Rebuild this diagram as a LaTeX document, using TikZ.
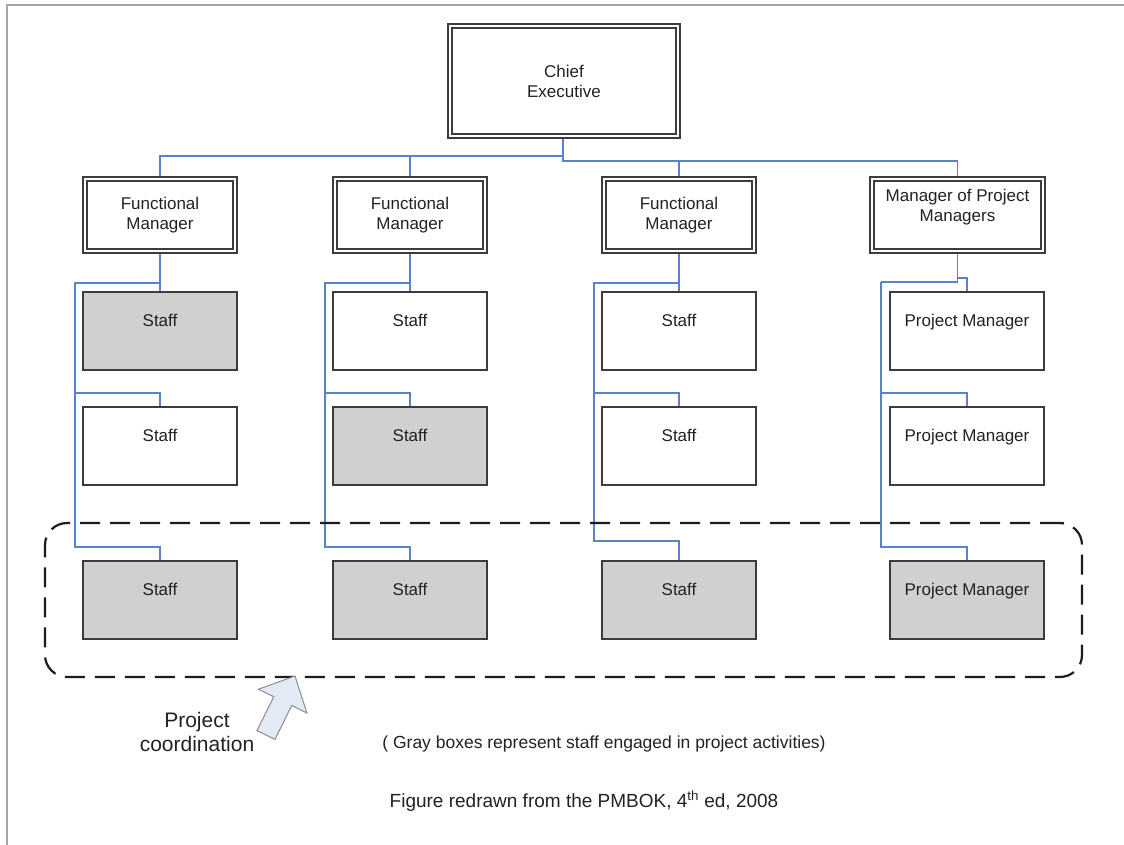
\documentclass[tikz,border=0pt]{standalone}
\usepackage{fontspec}
\setmainfont{Liberation Sans}
\usetikzlibrary{calc}
\pgfdeclarelayer{background}
\pgfsetlayers{background,main}

\definecolor{boxline}{HTML}{3C3C3C}
\definecolor{shade}{HTML}{D0D0D0}
\definecolor{txt}{HTML}{222222}
\definecolor{linkblue}{HTML}{5A82C8}
\definecolor{framegray}{HTML}{A6A6A6}
\definecolor{arrowfill}{HTML}{E3E9F5}
\definecolor{arrowline}{HTML}{8C8C8C}
\definecolor{dashcol}{HTML}{1C1C1C}

\tikzset{
  boxfont/.style={font=\fontsize{17}{20}\selectfont, text=txt},
  dbox/.style={boxfont, draw=boxline, line width=1.3pt, double=white,
    double distance=2.6pt, fill=white, inner sep=0pt, outer sep=0pt, align=center},
  staffbox/.style={boxfont, draw=boxline, line width=1.5pt, fill=white,
    minimum width=154pt, minimum height=78pt, inner sep=0pt, outer sep=0pt,
    text height=12pt, text depth=22pt},
  engaged/.style={staffbox, fill=shade},
  link/.style={draw=linkblue, line width=1.3pt},
  groupline/.style={draw=dashcol, line width=2.2pt, dash pattern=on 20pt off 10pt,
    rounded corners=22pt, inner sep=0pt, outer sep=0pt},
  blockarrow/.style={draw=arrowline, line width=1pt, fill=arrowfill, line join=miter},
  plaintext/.style={text=txt, inner sep=0pt, align=center},
}

\begin{document}
\begin{tikzpicture}[x=1pt, y=-1pt]
\useasboundingbox (0,0) rectangle (1124,845);

% page frame
\draw[framegray, line width=1.6pt] (7,845) -- (7,5) -- (1124,5);

% chief executive and the managers below
\node[dbox, minimum width=228pt, minimum height=110pt] (ce) at (564,81) {Chief\\Executive};
\node[dbox, minimum width=150pt, minimum height=72pt] (fm1) at (160,215) {Functional\\Manager};
\node[dbox, minimum width=150pt, minimum height=72pt] (fm2) at (410,215) {Functional\\Manager};
\node[dbox, minimum width=150pt, minimum height=72pt] (fm3) at (679,215) {Functional\\Manager};
\node[dbox, minimum width=171pt, minimum height=72pt] (fm4) at (957.5,215) {};
\node[plaintext, boxfont, anchor=north] (fm4-t) at (957.5,189) {Manager of Project\\Managers};

% staff columns
\node[engaged]  (s11) at (160,331) {Staff};
\node[staffbox] (s12) at (160,446) {Staff};
\node[engaged]  (s13) at (160,600) {Staff};

\node[staffbox] (s21) at (410,331) {Staff};
\node[engaged]  (s22) at (410,446) {Staff};
\node[engaged]  (s23) at (410,600) {Staff};

\node[staffbox] (s31) at (679,331) {Staff};
\node[staffbox] (s32) at (679,446) {Staff};
\node[engaged]  (s33) at (679,600) {Staff};

\node[staffbox] (s41) at (967,331) {Project Manager};
\node[staffbox] (s42) at (967,446) {Project Manager};
\node[engaged]  (s43) at (967,600) {Project Manager};

% reporting lines
\begin{pgfonlayer}{background}
  \coordinate (jl) at ($(ce.south)+(-1,20)$);
  \coordinate (jr) at ($(ce.south)+(-1,25)$);
  \draw[link] ($(ce.south)+(-1,0)$) -- (jr) -| (fm4.north);
  \draw[link] (jr) -| (fm3.north);
  \draw[link] (jl) -| (fm1.north);
  \draw[link] (jl) -| (fm2.north);

  % column 1
  \coordinate (b1) at ($(s11.north)+(-85,-9)$);
  \draw[link] (fm1.south) -- (s11.north);
  \draw[link] (s11.north |- b1) -- (b1) |- ($(s12.north)+(0,-14)$) -- (s12.north);
  \draw[link] (b1) |- ($(s13.north)+(0,-14)$) -- (s13.north);

  % column 2
  \coordinate (b2) at ($(s21.north)+(-85,-9)$);
  \draw[link] (fm2.south) -- (s21.north);
  \draw[link] (s21.north |- b2) -- (b2) |- ($(s22.north)+(0,-14)$) -- (s22.north);
  \draw[link] (b2) |- ($(s23.north)+(0,-14)$) -- (s23.north);

  % column 3
  \coordinate (b3) at ($(s31.north)+(-85,-9)$);
  \draw[link] (fm3.south) -- (s31.north);
  \draw[link] (s31.north |- b3) -- (b3) |- ($(s32.north)+(0,-14)$) -- (s32.north);
  \draw[link] (b3) |- ($(s33.north)+(0,-20)$) -- (s33.north);

  % column 4
  \coordinate (b4) at ($(s41.north)+(-86,-10)$);
  \draw[link] (fm4.south) -- (fm4.south |- b4) -- (b4);
  \draw[link] ($(fm4.south)+(0,27)$) -| (s41.north);
  \draw[link] (b4) |- ($(s42.north)+(0,-14)$) -- (s42.north);
  \draw[link] (b4) |- ($(s43.north)+(0,-14)$) -- (s43.north);
\end{pgfonlayer}

% project coordination group
\node[groupline, minimum width=1037pt, minimum height=154pt] (grp) at (563.5,600) {};

\draw[blockarrow] (295,676) -- (306.9,713) -- (291.7,705.5) -- (275,739.4)
  -- (257,730.6) -- (273.7,696.7) -- (258.5,689.2) -- cycle;

\node[plaintext, font=\fontsize{21}{24}\selectfont] (pc) at (197,732) {Project\\coordination};

\node[plaintext, font=\fontsize{17.5}{20}\selectfont, anchor=base] (note) at (604,748)
  {( Gray boxes represent staff engaged in project activities)};

\node[plaintext, font=\fontsize{19}{22}\selectfont, anchor=base] (src) at (584,807)
  {Figure redrawn from the PMBOK, 4\textsuperscript{th} ed, 2008};
\end{tikzpicture}
\end{document}
